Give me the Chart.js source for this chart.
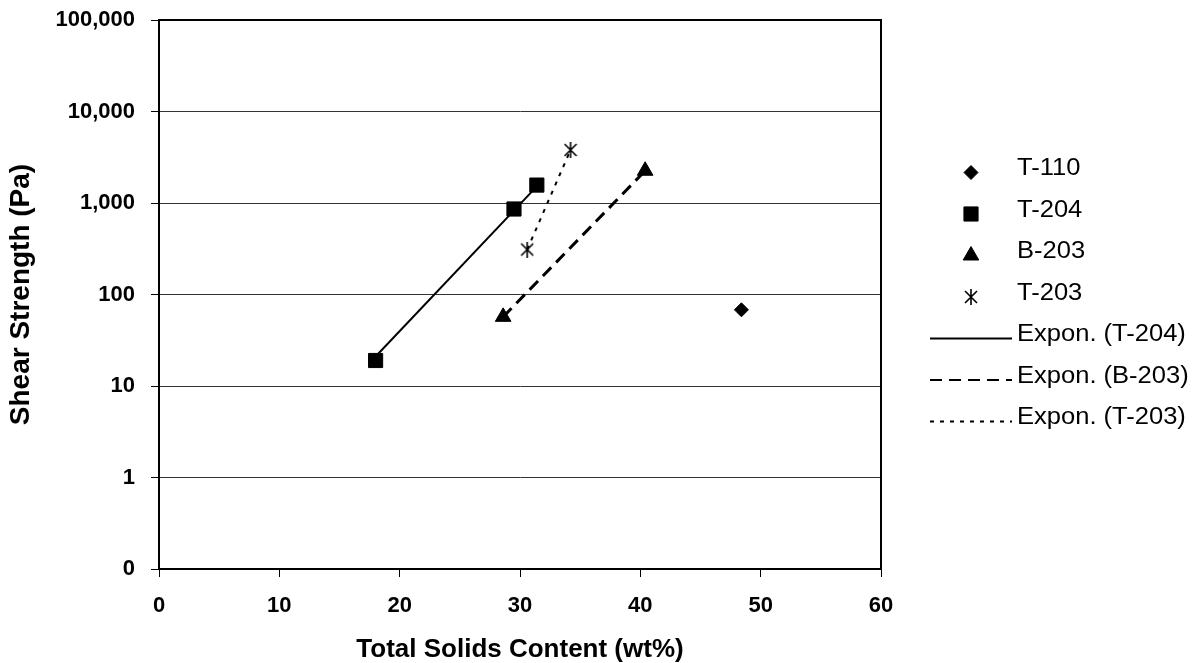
<!DOCTYPE html>
<html>
<head>
<meta charset="utf-8">
<script src="https://cdn.jsdelivr.net/npm/chart.js@4.4.1/dist/chart.umd.min.js"></script>
<style>
  html, body { margin: 0; padding: 0; background: #fff; }
  #wrap { width: 1196px; height: 663px; position: relative; }
</style>
</head>
<body>
<div id="wrap"><canvas id="chart"></canvas></div>
<script>
// Samples: total solids content (wt%) against shear strength (Pa)
const t110Solids = [48.4];
const t110Shear = [68];
const t204Solids = [18.0, 29.5, 31.4];
const t204Shear = [19, 860, 1570];
const b203Solids = [28.6, 40.4];
const b203Shear = [57, 2250];
const t203Solids = [30.6, 34.2];
const t203Shear = [310, 3800];

// Exponential trend lines, end points over each series' range
const t204FitSolids = [18.0, 31.4];
const t204FitShear = [21, 1520];
const b203FitSolids = [28.6, 40.4];
const b203FitShear = [57, 2250];
const t203FitSolids = [30.6, 34.2];
const t203FitShear = [310, 3800];

const seriesNames = ['T-110', 'T-204', 'B-203', 'T-203',
  'Expon. (T-204)', 'Expon. (B-203)', 'Expon. (T-203)'];

const xTicks = [0, 10, 20, 30, 40, 50, 60];
const yTicks = [0.1, 1, 10, 100, 1000, 10000, 100000];
const yTickLabels = ['0', '1', '10', '100', '1,000', '10,000', '100,000'];

const FONT = "'Liberation Sans', Arial, sans-serif";
const pts = (xs, ys) => xs.map((x, i) => ({ x: x, y: ys[i] }));

// Asterisk marker: an X crossed by a vertical stroke
const star = document.createElement('canvas');
star.width = 14; star.height = 16;
(function () {
  const c = star.getContext('2d');
  c.strokeStyle = '#000';
  c.lineWidth = 1.6;
  c.beginPath();
  c.moveTo(1, 2); c.lineTo(13, 14);
  c.moveTo(13, 2); c.lineTo(1, 14);
  c.moveTo(7, 0); c.lineTo(7, 16);
  c.stroke();
})();

// Top and right edges of the plot frame
const frame = {
  id: 'frame',
  beforeDatasetsDraw(chart) {
    const { ctx, chartArea: a } = chart;
    ctx.save();
    ctx.strokeStyle = '#000';
    ctx.lineWidth = 2;
    ctx.beginPath();
    ctx.moveTo(a.left, a.top);
    ctx.lineTo(a.right, a.top);
    ctx.lineTo(a.right, a.bottom);
    ctx.stroke();
    ctx.restore();
  }
};

// Legend column on the right: markers centred, trend lines as long samples
const sideLegend = {
  id: 'sideLegend',
  afterDraw(chart) {
    const ctx = chart.ctx;
    const markerX = 971, lineX0 = 930, lineX1 = 1012, textX = 1017;
    const rowY0 = 172.5, rowStep = 41.5;
    ctx.save();
    chart.data.datasets.forEach((ds, i) => {
      const y = rowY0 + rowStep * i;
      ctx.fillStyle = '#000';
      ctx.strokeStyle = '#000';
      if (ds.showLine) {
        ctx.lineWidth = 2;
        ctx.setLineDash(ds.borderDash || []);
        ctx.beginPath();
        ctx.moveTo(lineX0, y);
        ctx.lineTo(lineX1, y);
        ctx.stroke();
        ctx.setLineDash([]);
      } else {
        ctx.lineWidth = 1;
        Chart.helpers.drawPoint(ctx, {
          pointStyle: ds.pointStyle, radius: ds.pointRadius, rotation: 0, borderWidth: 1
        }, markerX, y);
      }
      // labels are set a little wide
      ctx.save();
      ctx.translate(textX, y - 3.5);
      ctx.scale(1.11, 1);
      ctx.fillStyle = '#000';
      ctx.font = '23px ' + FONT;
      ctx.textAlign = 'left';
      ctx.textBaseline = 'middle';
      ctx.fillText(ds.label, 0, 0);
      ctx.restore();
    });
    ctx.restore();
  }
};

const markerBase = { backgroundColor: '#000', borderColor: '#000', borderWidth: 1, pointHoverRadius: 0 };

new Chart(document.getElementById('chart'), {
  type: 'scatter',
  data: {
    datasets: [
      Object.assign({ label: seriesNames[0], data: pts(t110Solids, t110Shear), pointStyle: 'rectRot', pointRadius: 7 }, markerBase),
      Object.assign({ label: seriesNames[1], data: pts(t204Solids, t204Shear), pointStyle: 'rect', pointRadius: 10 }, markerBase),
      Object.assign({ label: seriesNames[2], data: pts(b203Solids, b203Shear), pointStyle: 'triangle', pointRadius: 9 }, markerBase),
      Object.assign({ label: seriesNames[3], data: pts(t203Solids, t203Shear), pointStyle: star, pointRadius: 7 }, markerBase),
      { label: seriesNames[4], data: pts(t204FitSolids, t204FitShear), showLine: true, pointRadius: 0,
        borderColor: '#000', borderWidth: 2, fill: false },
      { label: seriesNames[5], data: pts(b203FitSolids, b203FitShear), showLine: true, pointRadius: 0,
        borderColor: '#000', borderWidth: 3, borderDash: [12, 7], fill: false },
      { label: seriesNames[6], data: pts(t203FitSolids, t203FitShear), showLine: true, pointRadius: 0,
        borderColor: '#000', borderWidth: 2, borderDash: [4, 6], fill: false }
    ]
  },
  options: {
    responsive: true,
    maintainAspectRatio: false,
    animation: false,
    events: [],
    layout: { padding: { top: 20, right: 315, left: 0, bottom: 0 } },
    plugins: { legend: { display: false }, tooltip: { enabled: false } },
    scales: {
      x: {
        type: 'linear', min: 0, max: 60,
        afterBuildTicks: s => { s.ticks = xTicks.map(v => ({ value: v })); },
        afterFit: s => { s.height = 94; s.paddingLeft = 0; s.paddingRight = 0; },
        ticks: { font: { family: FONT, size: 22, weight: 'bold' }, color: '#000', padding: 16, maxRotation: 0, autoSkip: false },
        grid: { drawOnChartArea: false, drawTicks: true, tickLength: 8, color: '#000', tickColor: '#000', lineWidth: 1 },
        border: { display: true, color: '#000', width: 2 },
        title: { display: true, text: 'Total Solids Content (wt%)', color: '#000',
          font: { family: FONT, size: 26, weight: 'bold', lineHeight: 1 }, padding: { top: 0, bottom: 0 } }
      },
      y: {
        type: 'logarithmic', min: 0.1, max: 100000,
        afterBuildTicks: s => { s.ticks = yTicks.map(v => ({ value: v })); },
        afterFit: s => { s.width = 159; s.paddingTop = 0; s.paddingBottom = 0; },
        ticks: { callback: v => yTickLabels[yTicks.indexOf(v)], font: { family: FONT, size: 22, weight: 'bold' },
          color: '#000', padding: 16, autoSkip: false },
        grid: { color: '#333', lineWidth: 1, tickLength: 8, tickColor: '#000' },
        border: { display: true, color: '#000', width: 2 },
        title: { display: true, text: 'Shear Strength (Pa)', color: '#000',
          font: { family: FONT, size: 28, weight: 'bold', lineHeight: 1 }, padding: { top: 7, bottom: 0 } }
      }
    }
  },
  plugins: [frame, sideLegend]
});
</script>
</body>
</html>
